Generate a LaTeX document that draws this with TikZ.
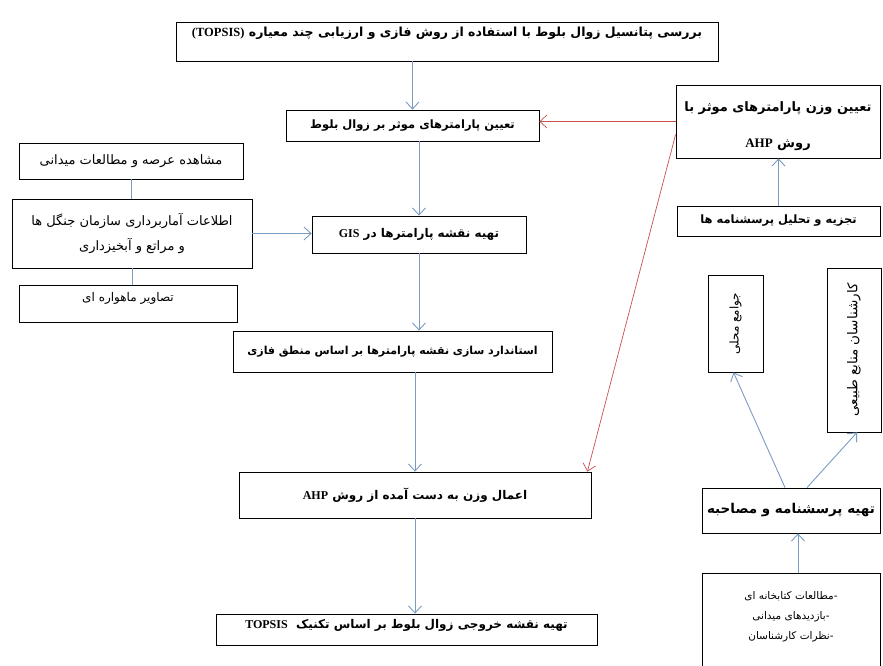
\documentclass[tikz,border=0pt]{standalone}
\usepackage{fontspec}
\usepackage{graphicx}
\usetikzlibrary{arrows.meta}
\TeXXeTstate=1
\newfontfamily\arabicfont[Script=Arabic]{DejaVu Sans}
\newfontfamily\latinfont{Liberation Serif}
\newcommand{\fa}[1]{{\arabicfont\beginR #1\endR}}
\newcommand{\en}[1]{\beginL{\latinfont\bfseries #1}\endL{}}
\newcommand{\fs}[2]{\fontsize{#1}{#2}\selectfont}
\definecolor{flowblue}{HTML}{7B9CC2}
\definecolor{flowred}{HTML}{C8504D}

\begin{document}
\begin{tikzpicture}[x=1pt, y=-1pt,
  box/.style={draw, line width=0.8pt, inner sep=2pt, align=center, font=\bfseries\fs{12}{15}},
  thinbox/.style={box, font=\fs{13}{16}},
  link/.style={flowblue, line width=0.9pt, ->},
  weightlink/.style={flowred, line width=0.7pt, ->},
  >={Straight Barb[length=7pt, width=13pt]}]

\useasboundingbox (0,0) rectangle (883,666);

\node[box, minimum width=542pt, minimum height=39pt, text depth=20pt, font=\bfseries\fs{12.5}{15}] (topic) at (447,41.5) {\fa{بررسی پتانسیل زوال بلوط با استفاده از روش فازی و ارزیابی چند معیاره \en{(TOPSIS)}}};
\node[box, minimum width=253pt, minimum height=31pt, font=\bfseries\fs{11.5}{15}] (factors) at (412.5,125.5) {\fa{تعیین پارامترهای موثر بر زوال بلوط}};
\node[box, minimum width=214pt, minimum height=37pt] (gismap) at (419,234.5) {\fa{تهیه نقشه پارامترها در \en{GIS}}};
\node[box, minimum width=319pt, minimum height=41pt, font=\bfseries\fs{11}{15}] (fuzzy) at (392.5,351.5) {\fa{استاندارد سازی نقشه پارامترها بر اساس منطق فازی}};
\node[box, minimum width=352pt, minimum height=46pt] (apply) at (415,495) {\fa{اعمال وزن به دست آمده از روش \en{AHP}}};
\node[box, minimum width=381pt, minimum height=31pt, text depth=11pt] (output) at (406.5,629.5) {\fa{تهیه نقشه خروجی زوال بلوط بر اساس تکنیک \ \en{TOPSIS}}};

\node[thinbox, minimum width=224pt, minimum height=36pt] (field) at (131,161) {\fa{مشاهده عرصه و مطالعات میدانی}};
\node[thinbox, minimum width=240pt, minimum height=69pt, font=\fs{13}{25}] (stats) at (132,233.5) {\fa{اطلاعات آماربرداری سازمان جنگل ها}\\ \fa{و مراتع و آبخیزداری}};
\node[thinbox, minimum width=218pt, minimum height=37pt, text depth=13pt, font=\fs{12}{16}] (sat) at (128,303.5) {\fa{تصاویر ماهواره ای}};

\node[box, minimum width=204pt, minimum height=73pt, text height=56pt, font=\bfseries\fs{13}{36}] (weights) at (778,121.5) {\fa{تعیین وزن پارامترهای موثر با}\\ \fa{روش \en{AHP}}};
\node[box, minimum width=203pt, minimum height=30pt, font=\bfseries\fs{11.5}{15}] (survey) at (778.5,221) {\fa{تجزیه و تحلیل پرسشنامه ها}};
\node[thinbox, minimum width=55pt, minimum height=97pt, font=\fs{12}{16}] (comm) at (735.5,323.5) {\rotatebox{90}{\fa{جوامع محلی}}};
\node[thinbox, minimum width=54pt, minimum height=164pt, font=\fs{13.5}{16}] (experts) at (854,350) {\rotatebox{90}{\fa{کارشناسان منابع طبیعی}}};
\node[box, minimum width=178pt, minimum height=45pt, font=\bfseries\fs{13.5}{16}] (prep) at (791,510.5) {\fa{تهیه پرسشنامه و مصاحبه}};
\node[thinbox, minimum width=178pt, minimum height=102pt, text depth=16pt, font=\fs{10.5}{20}] (lib) at (791,624) {\fa{-مطالعات کتابخانه ای}\\ \fa{-بازدیدهای میدانی}\\ \fa{-نظرات کارشناسان}};

\draw[link] (topic.south -| factors.north) -- (factors.north);
\draw[link] (factors.south -| gismap.north) -- (gismap.north);
\draw[link] (gismap.south) -- (gismap.south |- fuzzy.north);
\draw[link] (fuzzy.south -| apply.north) -- (apply.north);
\draw[link] (apply.south) -- (apply.south |- output.north);

\draw[flowblue, line width=0.9pt] (field.south) -- (field.south |- stats.north);
\draw[flowblue, line width=0.9pt] (stats.south) -- (stats.south |- sat.north);
\draw[link] (stats.east) -- (stats.east -| gismap.west);

\draw[weightlink] (weights.west) -- (weights.west -| factors.east);
\draw[weightlink] ([yshift=-13pt]weights.west) -- ([xshift=-4pt]apply.north east);

\draw[link] (survey.north) -- (survey.north |- weights.south);
\draw[link] ([xshift=-6pt]prep.north) -- ([xshift=-2pt]comm.south);
\draw[link] ([xshift=16pt]prep.north) -- ([xshift=3pt]experts.south);
\draw[link] ([xshift=7pt]lib.north) -- ([xshift=7pt]prep.south);

\end{tikzpicture}
\end{document}
